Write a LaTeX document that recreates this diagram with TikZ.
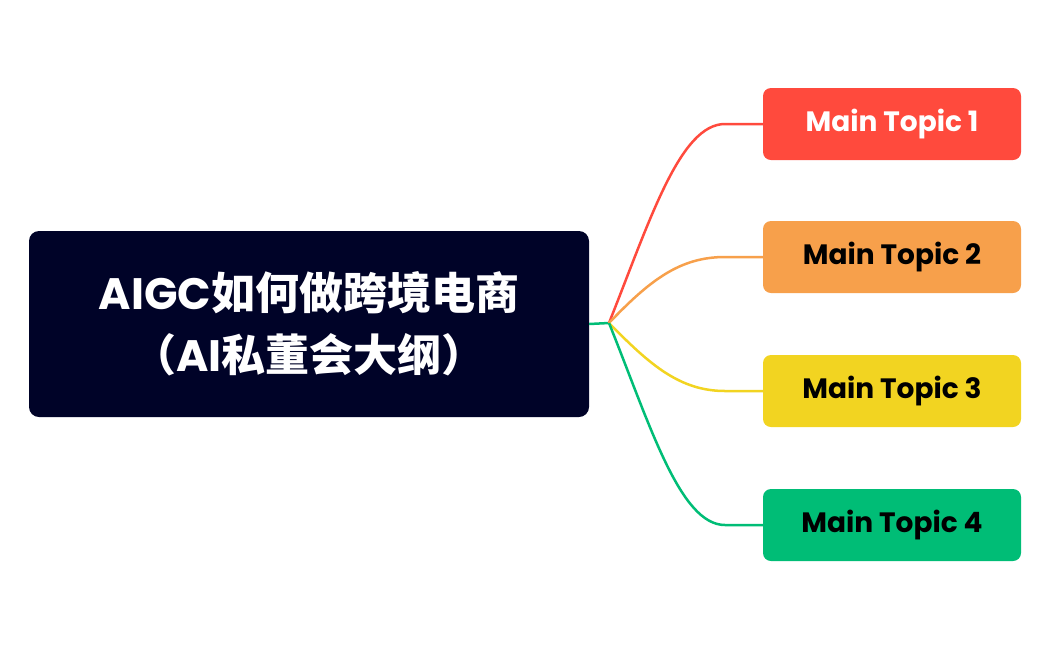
\documentclass[tikz,border=0pt]{standalone}
\usepackage{fontspec}
\setmainfont{Poppins}
\newfontfamily\cjk{Noto Sans CJK SC}
\definecolor{navy}{HTML}{000328}
\definecolor{tred}{HTML}{FF4A3D}
\definecolor{torange}{HTML}{F7A04B}
\definecolor{tyellow}{HTML}{F2D421}
\definecolor{tgreen}{HTML}{00BD76}
\begin{document}
\begin{tikzpicture}[x=1pt,y=-1pt,
  topic/.style={rounded corners=8pt,minimum width=258pt,minimum height=72pt,inner sep=0pt,font=\fontsize{28}{32}\selectfont\bfseries},
  link/.style={line width=2.5pt}]
\useasboundingbox (0,0) rectangle (1050,649);
\node[fill=navy,rounded corners=10pt,minimum width=560pt,minimum height=186pt,inner sep=0pt,text=white,align=center,font=\fontsize{44}{62}\selectfont\bfseries] (c) at (309,324) {AIGC{\cjk\bfseries 如何做跨境电商}\\{\cjk\bfseries （}AI{\cjk\bfseries 私董会大纲）}};
\coordinate (j) at (609,323);
\node[topic,fill=tred,text=white] (t1) at (892,124) {\raisebox{1pt}{Main Topic 1}};
\node[topic,fill=torange] (t2) at (892,257) {\raisebox{1pt}{Main Topic 2}};
\node[topic,fill=tyellow] (t3) at (892,391) {\raisebox{1pt}{Main Topic 3}};
\node[topic,fill=tgreen] (t4) at (892,525) {\raisebox{1pt}{Main Topic 4}};
\draw[link,tgreen] (c.east) -- (j);
\draw[link,tred] (j) .. controls (650,220) and (680,124) .. (725,124) -- (t1.west);
\draw[link,torange] (j) .. controls (650,280) and (680,257) .. (725,257) -- (t2.west);
\draw[link,tyellow] (j) .. controls (650,365) and (680,391) .. (725,391) -- (t3.west);
\draw[link,tgreen] (j) .. controls (650,425) and (680,525) .. (725,525) -- (t4.west);
\end{tikzpicture}
\end{document}
